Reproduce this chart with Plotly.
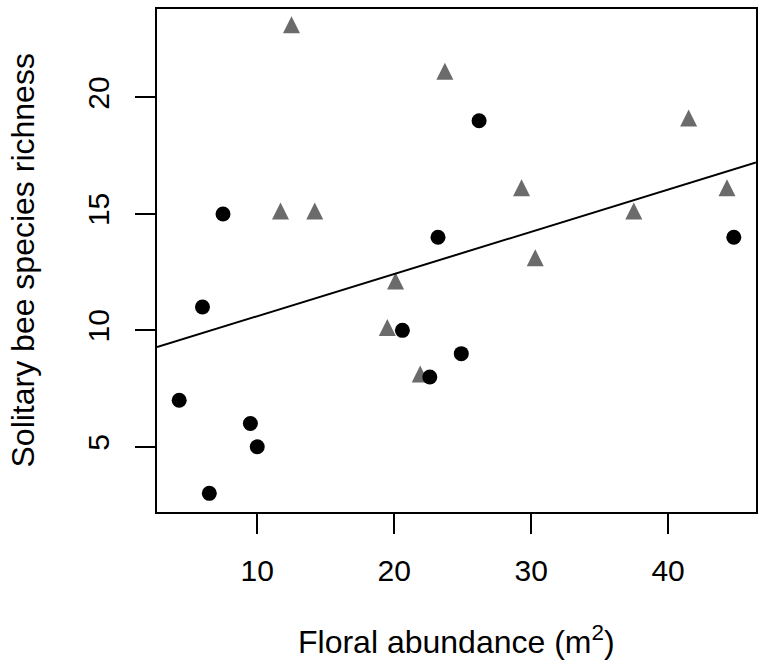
import numpy as np
import plotly.graph_objects as go

# Floral abundance (m^2) and solitary bee species richness per site
circle_abundance = [6.0, 4.3, 9.5, 10.0, 6.5, 7.5, 20.6, 24.9, 22.6, 26.2, 23.2, 44.8]
circle_richness = [11, 7, 6, 5, 3, 15, 10, 9, 8, 19, 14, 14]

triangle_abundance = [12.5, 11.7, 14.2, 23.7, 41.5, 29.3, 44.3, 37.5, 30.3, 20.1, 19.5, 21.9]
triangle_richness = [23, 15, 15, 21, 19, 16, 16, 15, 13, 12, 10, 8]

x_ticks = [10, 20, 30, 40]
y_ticks = [5, 10, 15, 20]

FONT = "Liberation Sans, Arial, Helvetica, sans-serif"
TICK_FS = 30
TITLE_FS = 32


def padded(values, frac=0.04):
    lo, hi = min(values), max(values)
    d = (hi - lo) * frac
    return [lo - d, hi + d]


all_x = np.array(circle_abundance + triangle_abundance, dtype=float)
all_y = np.array(circle_richness + triangle_richness, dtype=float)
slope, intercept = np.polyfit(all_x, all_y, 1)

x_range = padded(all_x)
y_range = padded(all_y)

fig = go.Figure()

# filled triangles: an arrow head turned apex-up, shifted so its centroid sits on the point
TRI_SIZE = 17
fig.add_trace(go.Scatter(
    x=triangle_abundance, y=triangle_richness, mode="markers",
    marker=dict(symbol="arrow-down", angle=180, size=TRI_SIZE,
                standoff=TRI_SIZE * 2 / 3, color="#6b6b6b", line=dict(width=0)),
    showlegend=False, hoverinfo="x+y",
))
fig.add_trace(go.Scatter(
    x=circle_abundance, y=circle_richness, mode="markers",
    marker=dict(symbol="circle", size=15, color="black", line=dict(width=0)),
    showlegend=False, hoverinfo="x+y",
))

# least-squares line across the full plotting region
line_x = np.array(x_range)
fig.add_trace(go.Scatter(
    x=line_x, y=intercept + slope * line_x, mode="lines",
    line=dict(color="black", width=2), showlegend=False, hoverinfo="skip",
))

axis_common = dict(
    ticks="outside", ticklen=20, tickwidth=2, tickcolor="black",
    showline=True, linewidth=2, linecolor="black", mirror=True,
    showgrid=False, zeroline=False,
    tickfont=dict(family=FONT, size=TICK_FS, color="black"),
)

fig.update_layout(
    width=759, height=671,
    margin=dict(l=157, r=3, t=9, b=159, autoexpand=False),
    paper_bgcolor="white", plot_bgcolor="white",
    xaxis=dict(range=x_range, tickvals=x_ticks, ticklabelstandoff=11,
               **axis_common),
    yaxis=dict(range=y_range, tickvals=y_ticks, tickangle=-90,
               ticklabelstandoff=14, **axis_common),
    annotations=[
        dict(text="Floral abundance (m<sup>2</sup>)", xref="paper", yref="paper",
             x=0.5, y=0, yshift=-128, xanchor="center", yanchor="middle",
             showarrow=False, font=dict(family=FONT, size=TITLE_FS, color="black")),
        dict(text="Solitary bee species richness", xref="paper", yref="paper",
             x=0, y=0.5, xshift=-135, xanchor="center", yanchor="middle",
             textangle=-90, showarrow=False,
             font=dict(family=FONT, size=TITLE_FS, color="black")),
    ],
)

fig.write_html("out.html")
